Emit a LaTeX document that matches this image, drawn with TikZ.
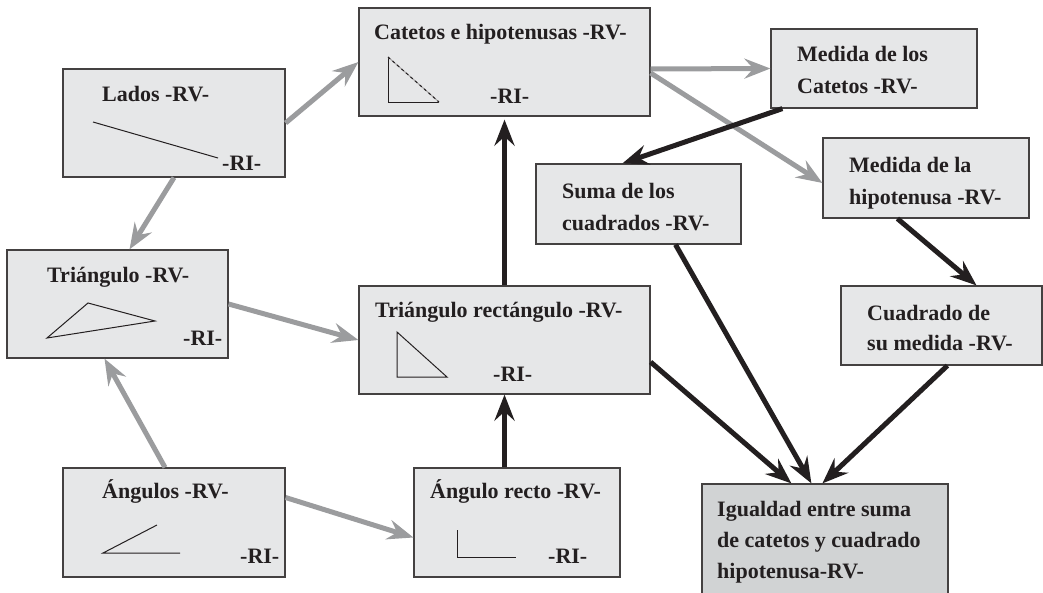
\documentclass[tikz,border=0pt]{standalone}
\usepackage{fontspec}
\setmainfont{Liberation Serif}
\usepackage{tikz}
\usetikzlibrary{arrows.meta}
\definecolor{boxfill}{RGB}{230,231,232}
\definecolor{boxdark}{RGB}{209,211,212}
\definecolor{arrowgray}{RGB}{155,156,158}
\definecolor{ink}{RGB}{35,31,32}
\tikzstyle{box}=[
	rectangle,
	draw=ink!85,
	line width=1.2pt,
	fill=boxfill,
	inner sep=0pt
]
\tikzstyle{lbl}=[
	anchor=base west,
	inner sep=0pt,
	align=left,
	text=ink,
	font=\fontsize{22}{32}\selectfont\bfseries
]
\tikzstyle{gedge}=[
	-{Stealth[length=26pt,width=20pt,inset=9pt]},
	line width=5pt,
	draw=arrowgray
]
\tikzstyle{bedge}=[
	-{Stealth[length=26pt,width=20pt,inset=9pt]},
	line width=5pt,
	draw=ink
]
\tikzstyle{fig}=[
	line width=1pt,
	draw=ink
]
\begin{document}
\begin{tikzpicture}[x=1pt,y=-1pt]
\useasboundingbox (0,0) rectangle (1043,592);
\node[box, minimum width=222pt, minimum height=108pt] (lados) at (174,123) {};
\node[box, minimum width=291pt, minimum height=108pt] (catetos) at (504.5,62) {};
\node[box, minimum width=206pt, minimum height=79pt] (medcat) at (874,68.5) {};
\node[box, minimum width=206pt, minimum height=80pt] (medhip) at (926,178) {};
\node[box, minimum width=205pt, minimum height=80pt] (suma) at (638.5,204) {};
\node[box, minimum width=221pt, minimum height=108pt] (tri) at (117.5,304) {};
\node[box, minimum width=291pt, minimum height=108pt] (trirect) at (504.5,340) {};
\node[box, minimum width=222pt, minimum height=109pt] (ang) at (174,522.5) {};
\node[box, minimum width=206pt, minimum height=109pt] (angrecto) at (517,522.5) {};
\node[box, minimum width=201pt, minimum height=79pt] (cuad) at (941.5,325.5) {};
\node[box, fill=boxdark, minimum width=246pt, minimum height=116pt] (igual) at (825,542) {};

\node[lbl] (ladosrv) at (102,101) {Lados -RV-};
\node[lbl] (ladosri) at (222,170) {-RI-};
\node[lbl] (catrv) at (374,39) {Catetos e hipotenusas -RV-};
\node[lbl] (catri) at (490,103) {-RI-};
\node[lbl] (medcattxt) at (797,93) {Medida de los\\Catetos -RV-};
\node[lbl] (medhiptxt) at (849,204) {Medida de la\\hipotenusa -RV-};
\node[lbl] (sumatxt) at (562,230) {Suma de los\\cuadrados -RV-};
\node[lbl] (trirv) at (47,282) {Triángulo -RV-};
\node[lbl] (triri) at (183,345) {-RI-};
\node[lbl] (trirectrv) at (375,317) {Triángulo rectángulo -RV-};
\node[lbl] (trirectri) at (493,381) {-RI-};
\node[lbl] (angrv) at (102,498) {Ángulos -RV-};
\node[lbl] (angri) at (240,563) {-RI-};
\node[lbl] (angrectorv) at (430,498) {Ángulo recto -RV-};
\node[lbl] (angrectori) at (548,563) {-RI-};
\node[lbl, font=\fontsize{22}{30}\selectfont\bfseries] (cuadtxt) at (867,350) {Cuadrado de\\su medida -RV-};
\node[lbl, font=\fontsize{22}{31}\selectfont\bfseries] (igualtxt) at (717,578) {Igualdad entre suma\\de catetos y cuadrado\\hipotenusa-RV-};

\draw[fig] (93,122) -- (218,158);
\draw[fig] (439,102) -- (388,102) -- (388,57);
\draw[fig, draw=ink!40] (388,57) -- (439,102);
\draw[fig, dash pattern=on 3pt off 3pt] (388,57) -- (439,102);
\draw[fig] (47,338) -- (88,303) -- (155,321) -- cycle;
\draw[fig] (397,332) -- (397,377) -- (447,377) -- cycle;
\draw[fig] (157,525) -- (103,553) -- (180,553);
\draw[fig] (457,530) -- (457,557) -- (516,557);

\draw[gedge] (lados.east) -- (catetos.west);
\draw[gedge] (lados.south) -- ([xshift=12pt]tri.north);
\draw[gedge] (tri.east) -- (trirect.west);
\draw[gedge] ([xshift=-9pt]ang.north) -- ([xshift=-13pt]tri.south);
\draw[gedge] ([yshift=25pt]ang.east) -- ([yshift=-15pt]angrecto.west);
\draw[gedge] ([yshift=-7pt]catetos.east) -- (medcat.west);
\draw[gedge] ([yshift=-11pt]catetos.east) -- ([yshift=-5pt]medhip.west);

\draw[bedge] (trirect.north) -- ([yshift=-3pt]catetos.south);
\draw[bedge] (trirect.south |- angrecto.north) -- (trirect.south);
\draw[bedge] ([xshift=12pt]medcat.south west) -- ([xshift=87pt]suma.north west);
\draw[bedge] ([xshift=75pt]medhip.south west) -- ([xshift=35pt]cuad.north);
\draw[bedge] ([xshift=37pt]suma.south) -- ([xshift=110pt]igual.north west);
\draw[bedge] ([yshift=-22pt]trirect.east) -- ([xshift=90pt]igual.north west);
\draw[bedge] ([xshift=107pt]cuad.south west) -- ([xshift=121pt]igual.north west);
\end{tikzpicture}
\end{document}
